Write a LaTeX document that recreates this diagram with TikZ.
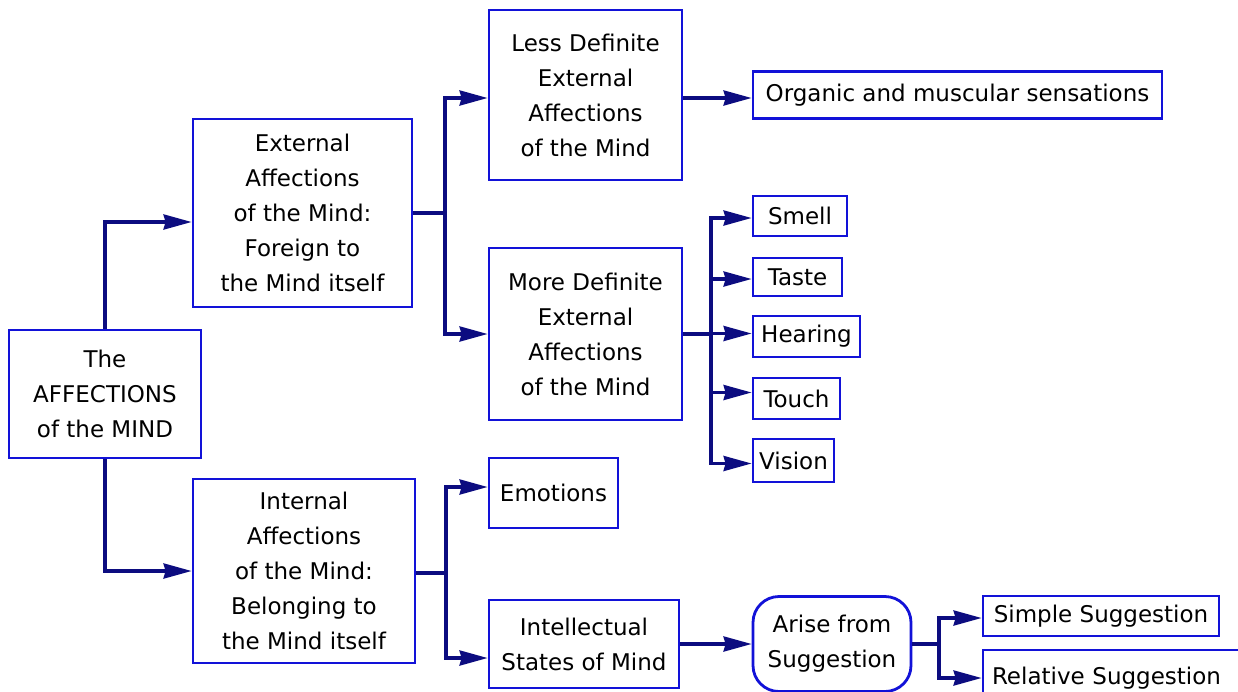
\documentclass[tikz,border=0pt]{standalone}
\usepackage{fontspec}
\setmainfont{DejaVu Sans}
\usetikzlibrary{arrows.meta}
\definecolor{boxblue}{HTML}{1212D8}
\definecolor{linenavy}{HTML}{0C0C80}
\begin{document}
\begin{tikzpicture}[x=1pt,y=-1pt,
  box/.style={draw=boxblue, line width=2.8pt, fill=white, align=center,
    inner sep=0pt, font=\fontsize{23}{35}\selectfont},
  roundbox/.style={box, rounded corners=26pt},
  trunk/.style={draw=linenavy, line width=3.2pt},
  conn/.style={trunk, -{Stealth[length=28pt,width=15pt,inset=2pt]}}]
\useasboundingbox (0,0) rectangle (1238,691);
\fill[white] (0,0) rectangle (1238,691);

% root and the two main branches
\node[box, minimum width=192, minimum height=128] (root) at (105,394)
  {The\\AFFECTIONS\\of the MIND};
\node[box, minimum width=219, minimum height=188] (ext) at (302.5,213)
  {External\\Affections\\of the Mind:\\Foreign to\\the Mind itself};
\node[box, minimum width=222, minimum height=184] (int) at (304,571)
  {Internal\\Affections\\of the Mind:\\Belonging to\\the Mind itself};

% external affections
\node[box, minimum width=193, minimum height=170] (less) at (585.5,95)
  {Less Definite\\External\\Affections\\of the Mind};
\node[box, minimum width=193, minimum height=172] (more) at (585.5,334)
  {More Definite\\External\\Affections\\of the Mind};
\node[box, minimum width=409, minimum height=47] (organic) at (957.5,95)
  {Organic and muscular sensations};

% the senses
\node[box, minimum width=94, minimum height=40] (smell) at (800,216) {Smell};
\node[box, minimum width=89, minimum height=38] (taste) at (797.5,277) {Taste};
\node[box, minimum width=107, minimum height=41] (hearing) at (806.5,336.5) {Hearing};
\node[box, minimum width=87, minimum height=41] (touch) at (796.5,398.5) {Touch};
\node[box, minimum width=81, minimum height=43] (vision) at (793.5,460.5) {Vision};

% internal affections
\node[box, minimum width=129, minimum height=70] (emotions) at (553.5,493) {Emotions};
\node[box, minimum width=190, minimum height=88] (intel) at (584,644)
  {Intellectual\\States of Mind};
\node[roundbox, minimum width=158, minimum height=95] (arise) at (832,644)
  {Arise from\\Suggestion};
\node[box, minimum width=236, minimum height=40] (simple) at (1101,616)
  {Simple Suggestion};
\node[box, minimum width=268, minimum height=56, text width=250, align=left]
  (relative) at (1117,678) {Relative Suggestion};

% connectors
\draw[conn] (root.north) |- ([yshift=-9pt]ext.west);
\draw[conn] (root.south) |- (int.west);

\draw[trunk] (ext.east) -- (445,213) coordinate (jext);
\draw[conn] (jext) |- ([yshift=-3pt]less.west);
\draw[conn] (jext) |- (more.west);
\draw[conn] ([yshift=-3pt]less.east) -- ([yshift=-3pt]organic.west);

\draw[trunk] (more.east) -- (711,334) coordinate (jmore);
\draw[conn] (jmore) |- ([yshift=-2pt]smell.west);
\draw[conn] (jmore) |- ([yshift=-2pt]taste.west);
\draw[conn] (jmore) |- ([yshift=3pt]hearing.west);
\draw[conn] (jmore) |- ([yshift=6pt]touch.west);
\draw[conn] (jmore) |- ([yshift=-3pt]vision.west);

\draw[trunk] ([yshift=-2pt]int.east) -- (446,573) coordinate (jint);
\draw[conn] (jint) |- ([yshift=6pt]emotions.west);
\draw[conn] (jint) |- ([yshift=-14pt]intel.west);

\draw[conn] (intel.east) -- (arise.west);
\draw[trunk] (arise.east) -- (939,644) coordinate (jarise);
\draw[conn] (jarise) |- ([yshift=-2pt]simple.west);
\draw[conn] (jarise) |- (relative.west);
\end{tikzpicture}
\end{document}
